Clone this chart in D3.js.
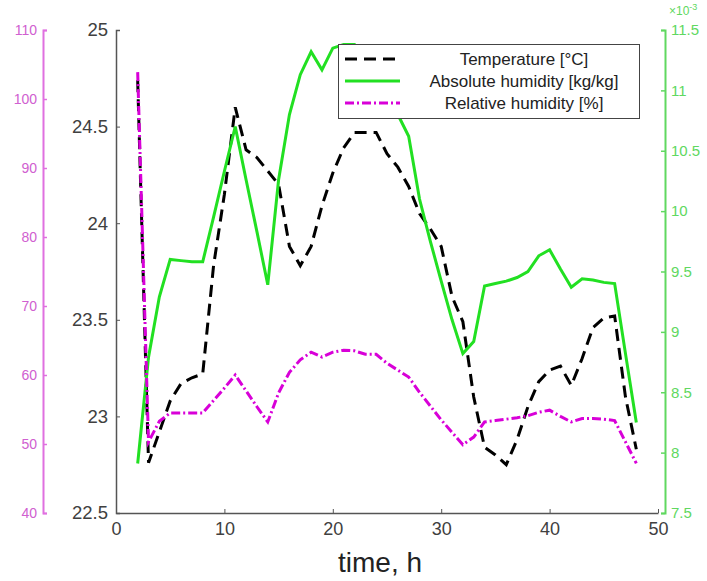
<!DOCTYPE html>
<html>
<head>
<meta charset="utf-8">
<script src="https://cdn.jsdelivr.net/npm/d3@7"></script>
<style>
  body { margin: 0; background: #fff; }
  text { font-family: "Liberation Sans", Arial, sans-serif; }
</style>
</head>
<body>
<div id="chart"></div>
<script>
var svgWidth = 707;
var svgHeight = 581;

// hours
var hours = [2, 3, 4, 5, 6, 7, 8, 9, 10, 11, 12, 13, 14, 15, 16, 17, 18, 19, 20, 21, 22, 23, 24, 25,
  26, 27, 28, 29, 30, 31, 32, 33, 34, 35, 36, 37, 38, 39, 40, 41, 42, 43, 44, 45, 46, 47, 48];

// temperature, degC
var temperature = [24.74, 22.76, 22.92, 23.08, 23.17, 23.20, 23.22, 23.78, 24.15, 24.60, 24.38, 24.34,
  24.27, 24.20, 23.88, 23.78, 23.88, 24.09, 24.26, 24.39, 24.47, 24.47, 24.47, 24.36, 24.29, 24.19,
  24.05, 23.97, 23.88, 23.62, 23.49, 23.10, 22.84, 22.80, 22.75, 22.88, 23.05, 23.18, 23.24, 23.26,
  23.16, 23.30, 23.46, 23.51, 23.52, 23.10, 22.83];

// absolute humidity, x 1e-3 kg/kg
var absHumidity = [7.91, 8.79, 9.29, 9.60, 9.59, 9.58, 9.58, 9.95, 10.33, 10.70, 10.26, 9.83,
  9.39, 10.26, 10.80, 11.13, 11.32, 11.17, 11.35, 11.38, 11.38, 11.30, 11.20, 11.00, 10.80, 10.62,
  10.10, 9.75, 9.42, 9.10, 8.82, 8.92, 9.38, 9.40, 9.42, 9.45, 9.50, 9.63, 9.68, 9.52,
  9.37, 9.44, 9.43, 9.41, 9.40, 8.82, 8.25];

// relative humidity, %
var relHumidity = [103.9, 50.3, 53.3, 54.5, 54.5, 54.5, 54.5, 56.3, 58.1, 60.0, 57.7, 55.4,
  53.2, 57.4, 60.4, 62.2, 63.3, 62.6, 63.3, 63.6, 63.5, 63.0, 63.0, 61.7, 60.7, 59.7,
  57.5, 55.5, 53.5, 51.7, 49.9, 51.0, 53.2, 53.4, 53.6, 53.8, 54.1, 54.6, 54.9, 54.0,
  53.2, 53.7, 53.7, 53.6, 53.4, 50.3, 47.2];

var xTicks = [0, 10, 20, 30, 40, 50];
var tempTicks = [22.5, 23, 23.5, 24, 24.5, 25];
var absTicks = [7.5, 8, 8.5, 9, 9.5, 10, 10.5, 11, 11.5];
var relTicks = [40, 50, 60, 70, 80, 90, 100, 110];

var legendNames = ["Temperature [°C]", "Absolute humidity [kg/kg]", "Relative humidity [%]"];

var plotLeft = 116, plotRight = 658, plotTop = 30, plotBottom = 513;
var pinkAxisX = 43, greenAxisX = 665;

var pink = "#d800d8", pinkAxis = "#e070e0";
var green = "#22e022", greenAxis = "#60d860";
var grey = "#555";
var plain = d => String(d);

var svg = d3.select("#chart")
  .append("svg")
  .attr("width", svgWidth)
  .attr("height", svgHeight);

var x = d3.scaleLinear().domain([0, 50]).range([plotLeft, plotRight]);
var yTemp = d3.scaleLinear().domain([22.5, 25]).range([plotBottom, plotTop]);
var yAbs = d3.scaleLinear().domain([7.5, 11.5]).range([plotBottom, plotTop]);
var yRel = d3.scaleLinear().domain([40, 110]).range([plotBottom, plotTop]);

// pink axis
var relAxis = svg.append("g")
  .attr("transform", `translate(${pinkAxisX},0)`)
  .call(d3.axisLeft(yRel).tickValues(relTicks).tickFormat(plain)
    .tickSizeInner(-4).tickSizeOuter(-4).tickPadding(6));
relAxis.select(".domain").attr("stroke", pinkAxis).attr("stroke-width", 2);
relAxis.selectAll(".tick line").attr("stroke", pinkAxis).attr("stroke-width", 1.5);
relAxis.selectAll(".tick text").attr("fill", "#d060d0").attr("font-size", "14px");

// main left axis
var tempAxis = svg.append("g")
  .attr("transform", `translate(${plotLeft},0)`)
  .call(d3.axisLeft(yTemp).tickValues(tempTicks).tickFormat(plain)
    .tickSizeInner(-4).tickSizeOuter(-4).tickPadding(8));
tempAxis.select(".domain").attr("stroke", grey).attr("stroke-width", 1.5);
tempAxis.selectAll(".tick line").attr("stroke", grey);
tempAxis.selectAll(".tick text").attr("fill", "#404040").attr("font-size", "18.5px");

// bottom axis
var xAxis = svg.append("g")
  .attr("transform", `translate(0,${plotBottom})`)
  .call(d3.axisBottom(x).tickValues(xTicks).tickFormat(plain)
    .tickSizeInner(-4).tickSizeOuter(0).tickPadding(9));
xAxis.select(".domain").attr("stroke", grey).attr("stroke-width", 1.5);
xAxis.selectAll(".tick line").attr("stroke", grey);
xAxis.selectAll(".tick text").attr("fill", "#404040").attr("font-size", "18px");

// green right axis
var absAxis = svg.append("g")
  .attr("transform", `translate(${greenAxisX},0)`)
  .call(d3.axisRight(yAbs).tickValues(absTicks).tickFormat(plain)
    .tickSizeInner(-4).tickSizeOuter(-4).tickPadding(6));
absAxis.select(".domain").attr("stroke", greenAxis).attr("stroke-width", 2);
absAxis.selectAll(".tick line").attr("stroke", greenAxis).attr("stroke-width", 1.5);
absAxis.selectAll(".tick text").attr("fill", greenAxis).attr("font-size", "15px");

var expLabel = svg.append("text")
  .attr("x", 669)
  .attr("y", 15)
  .attr("fill", greenAxis)
  .attr("font-size", "12px");
expLabel.append("tspan").text("×10");
expLabel.append("tspan").attr("dy", -5).attr("font-size", "9px").text("-3");

// lines
var lineTemp = d3.line().x((d, i) => x(hours[i])).y(d => yTemp(d));
var lineAbs = d3.line().x((d, i) => x(hours[i])).y(d => yAbs(d));
var lineRel = d3.line().x((d, i) => x(hours[i])).y(d => yRel(d));

svg.append("path")
  .datum(temperature)
  .attr("d", lineTemp)
  .attr("fill", "none")
  .attr("stroke", "#000")
  .attr("stroke-width", 3)
  .attr("stroke-dasharray", "12,7");

svg.append("path")
  .datum(absHumidity)
  .attr("d", lineAbs)
  .attr("fill", "none")
  .attr("stroke", green)
  .attr("stroke-width", 3);

svg.append("path")
  .datum(relHumidity)
  .attr("d", lineRel)
  .attr("fill", "none")
  .attr("stroke", pink)
  .attr("stroke-width", 3)
  .attr("stroke-dasharray", "9,3,2,3");

// x label
svg.append("text")
  .attr("x", 380)
  .attr("y", 572)
  .attr("text-anchor", "middle")
  .attr("fill", "#222")
  .attr("font-size", "28px")
  .text("time, h");

// legend
var legend = svg.append("g");
legend.append("rect")
  .attr("x", 338.5)
  .attr("y", 44.5)
  .attr("width", 301)
  .attr("height", 74)
  .attr("fill", "#fff")
  .attr("stroke", "#444")
  .attr("stroke-width", 1);

var legendStyles = [
  { stroke: "#000", dash: "12,7" },
  { stroke: green, dash: null },
  { stroke: pink, dash: "9,3,2,3" }
];

legendNames.forEach(function(name, i) {
  var yy = 59 + i * 22;
  legend.append("line")
    .attr("x1", 345).attr("x2", 400)
    .attr("y1", yy).attr("y2", yy)
    .attr("stroke", legendStyles[i].stroke)
    .attr("stroke-width", 3)
    .attr("stroke-dasharray", legendStyles[i].dash);
  legend.append("text")
    .attr("x", 524)
    .attr("y", yy + 6)
    .attr("text-anchor", "middle")
    .attr("fill", "#222")
    .attr("font-size", "17px")
    .text(name);
});
</script>
</body>
</html>
